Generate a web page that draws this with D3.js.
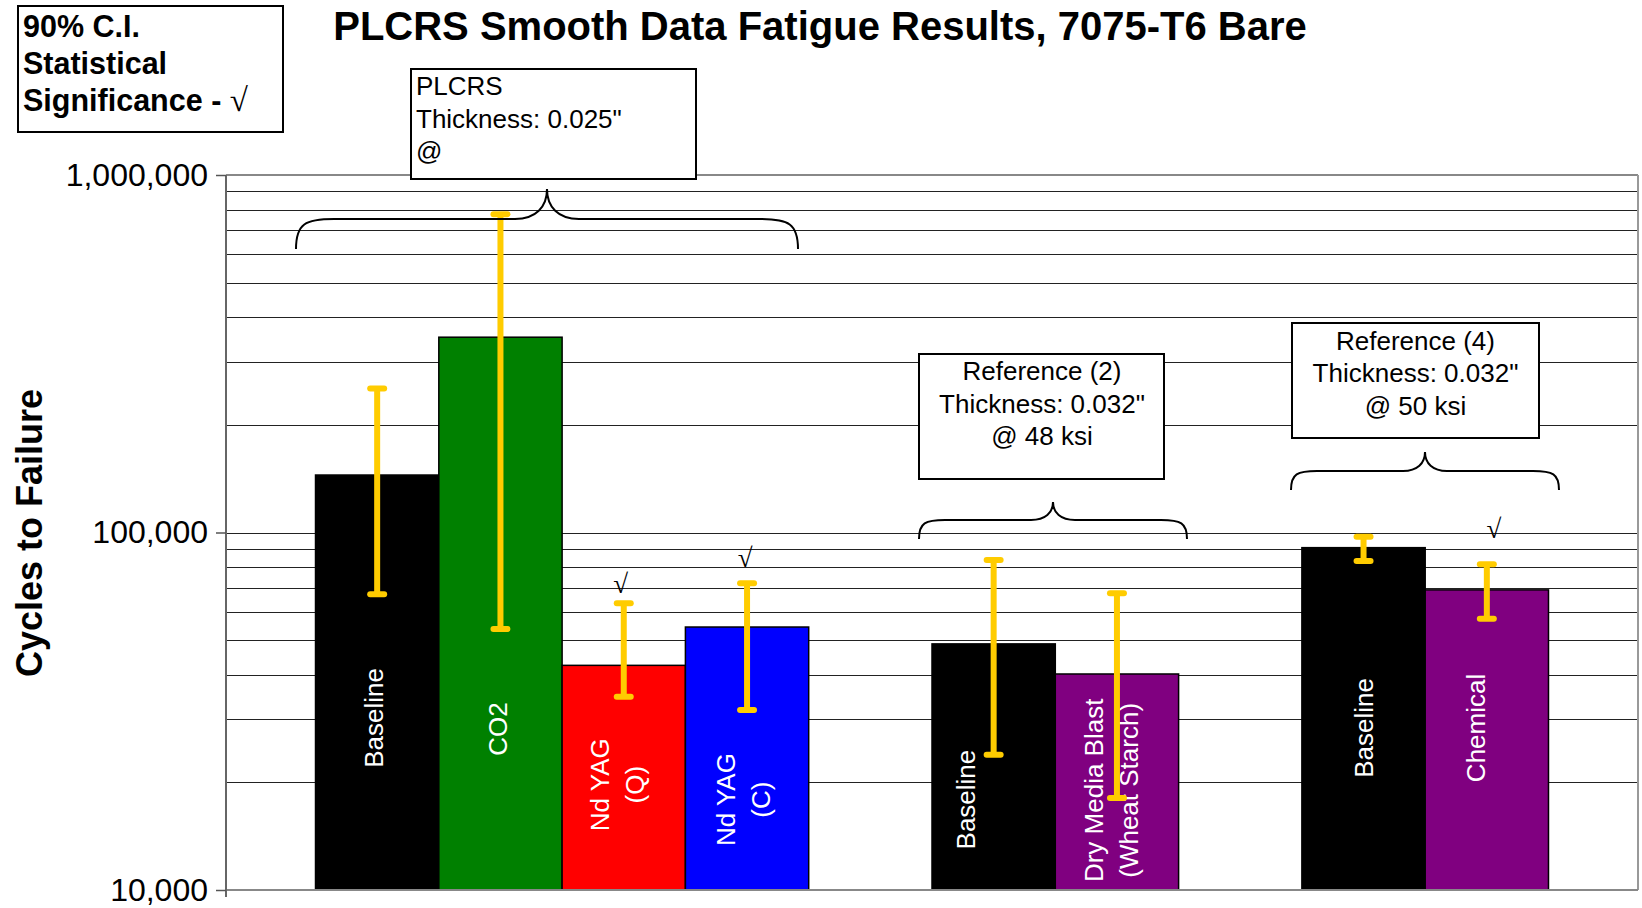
<!DOCTYPE html>
<html>
<head>
<meta charset="utf-8">
<script src="https://cdn.jsdelivr.net/npm/d3@7"></script>
<style>
  body { margin: 0; background: #fff; }
  svg { display: block; font-family: "Liberation Sans", Arial, sans-serif; }
</style>
</head>
<body>
<script>
// chart values
const slots = ["s0", "s1", "s2", "s3", "gapA", "s5", "s6", "gapB", "s8", "s9"];
const barSlot = ["s0", "s1", "s2", "s3", "s5", "s6", "s8", "s9"];
const barLabels = [["Baseline"], ["CO2"], ["Nd YAG", "(Q)"], ["Nd YAG", "(C)"],
                   ["Baseline"], ["Dry Media Blast", "(Wheat Starch)"], ["Baseline"], ["Chemical"]];
const cycles = [144800, 351800, 42500, 54400, 48800, 40200, 90700, 69100];
const ciHigh = [252700, 776700, 63400, 72100, 83800, 67600, 97300, 81500];
const ciLow  = [67200, 53700, 34700, 31900, 23900, 18100, 83200, 57400];
const significant = [false, false, true, true, false, false, false, true];
const barColors = ["#000000", "#008000", "#ff0000", "#0000ff", "#000000", "#800080", "#000000", "#800080"];
const yTicks = [10000, 100000, 1000000];

// where the labels inside the bars and the check marks sit (in cycles), plus small nudges
const labelAt = [30300, 28200, 19700, 17900, 17900, 19000, 28400, 28400];
const labelDx = [-4, -2.5, -7, -3.5, -28, -5.5, 0, -11];
const checkAt = [0, 0, 67700, 80100, 0, 0, 0, 96500];
const checkDx = [0, 0, -3, -2, 0, 0, 0, 7];

const width = 1642, height = 908;
const plot = { left: 226, right: 1638, top: 175, bottom: 890 };

const svg = d3.select("body").append("svg")
  .attr("width", width)
  .attr("height", height);

const x = d3.scaleBand()
  .domain(slots)
  .range([plot.left, plot.right])
  .paddingInner(0)
  .paddingOuter(0.726);

const y = d3.scaleLog()
  .domain([10000, 1000000])
  .range([plot.bottom, plot.top]);

// gridlines (every 1..9 of each decade)
const grid = y.ticks().filter(d => d > 10000 && d < 1000000);
svg.append("g")
  .selectAll("line")
  .data(grid)
  .join("line")
  .attr("x1", plot.left)
  .attr("x2", plot.right)
  .attr("y1", d => Math.round(y(d)) + 0.5)
  .attr("y2", d => Math.round(y(d)) + 0.5)
  .attr("stroke", "#222")
  .attr("stroke-width", 1);

const bars = barSlot.map((s, i) => ({
  slot: s, label: barLabels[i], value: cycles[i], hi: ciHigh[i], lo: ciLow[i],
  sig: significant[i], color: barColors[i], labelAt: labelAt[i], labelDx: labelDx[i],
  checkAt: checkAt[i], checkDx: checkDx[i]
}));
const cx = d => x(d.slot) + x.bandwidth() / 2;

// bars
svg.append("g")
  .selectAll("rect")
  .data(bars)
  .join("rect")
  .attr("x", d => x(d.slot))
  .attr("y", d => y(d.value))
  .attr("width", x.bandwidth())
  .attr("height", d => plot.bottom - y(d.value))
  .attr("fill", d => d.color)
  .attr("stroke", "#000")
  .attr("stroke-width", 1.5);

// labels inside the bars
const lab = svg.append("g")
  .selectAll("text")
  .data(bars)
  .join("text")
  .attr("transform", d => `translate(${cx(d) + d.labelDx},${y(d.labelAt)}) rotate(-90)`)
  .attr("text-anchor", "middle")
  .attr("fill", "#fff")
  .attr("font-size", 26);
lab.selectAll("tspan")
  .data(d => d.label.map((t, i) => ({ t, off: (i - (d.label.length - 1) / 2) * 35 })))
  .join("tspan")
  .attr("x", 0)
  .attr("y", d => d.off)
  .attr("dy", "0.36em")
  .text(d => d.t);

// error bars
const eb = svg.append("g")
  .attr("stroke", "#ffcc00")
  .attr("stroke-width", 6)
  .selectAll("g")
  .data(bars)
  .join("g");
eb.append("line")
  .attr("x1", cx).attr("x2", cx)
  .attr("y1", d => y(d.hi)).attr("y2", d => y(d.lo));
eb.append("line")
  .attr("stroke-linecap", "round")
  .attr("x1", d => cx(d) - 7).attr("x2", d => cx(d) + 7)
  .attr("y1", d => y(d.hi)).attr("y2", d => y(d.hi));
eb.append("line")
  .attr("stroke-linecap", "round")
  .attr("x1", d => cx(d) - 7).attr("x2", d => cx(d) + 7)
  .attr("y1", d => y(d.lo)).attr("y2", d => y(d.lo));

// statistical significance marks
svg.append("g")
  .selectAll("text")
  .data(bars.filter(d => d.sig))
  .join("text")
  .attr("x", d => cx(d) + d.checkDx)
  .attr("y", d => y(d.checkAt))
  .attr("text-anchor", "middle")
  .attr("font-family", "'Liberation Serif', 'Times New Roman', serif")
  .attr("font-size", 27)
  .text("\u221A");

// axes and plot frame
svg.append("line")
  .attr("x1", plot.left).attr("x2", plot.right)
  .attr("y1", plot.top).attr("y2", plot.top)
  .attr("stroke", "#888").attr("stroke-width", 2);
svg.append("line")
  .attr("x1", plot.right).attr("x2", plot.right)
  .attr("y1", plot.top).attr("y2", plot.bottom)
  .attr("stroke", "#999").attr("stroke-width", 2);
svg.append("line")
  .attr("x1", plot.left).attr("x2", plot.right)
  .attr("y1", plot.bottom).attr("y2", plot.bottom)
  .attr("stroke", "#888").attr("stroke-width", 2);
svg.append("line")
  .attr("x1", plot.left).attr("x2", plot.left)
  .attr("y1", plot.top).attr("y2", plot.bottom + 7)
  .attr("stroke", "#666").attr("stroke-width", 2);

const yAxis = svg.append("g")
  .attr("transform", `translate(${plot.left},0)`)
  .call(d3.axisLeft(y).tickValues(yTicks).tickFormat(d3.format(",")).tickSize(10).tickSizeOuter(0).tickPadding(8));
yAxis.select(".domain").remove();
yAxis.selectAll(".tick line").attr("stroke", "#555").attr("stroke-width", 1.5);
yAxis.selectAll(".tick text")
  .attr("font-family", "'Liberation Sans', Arial, sans-serif")
  .attr("font-size", 32)
  .attr("fill", "#000");

svg.append("text")
  .attr("transform", `translate(42,533) rotate(-90)`)
  .attr("text-anchor", "middle")
  .attr("font-weight", "bold")
  .attr("font-size", 36)
  .text("Cycles to Failure");

// title
svg.append("text")
  .attr("x", 820)
  .attr("y", 40)
  .attr("text-anchor", "middle")
  .attr("font-weight", "bold")
  .attr("font-size", 40)
  .text("PLCRS Smooth Data Fatigue Results, 7075-T6 Bare");

// curly braces over each group
function brace(x0, x1, yEnd, yFlat, tipX, tipY, r, r2) {
  const p = d3.path();
  p.moveTo(x0, yEnd);
  p.bezierCurveTo(x0, yFlat + (yEnd - yFlat) * 0.15, x0 + r * 0.25, yFlat, x0 + r, yFlat);
  p.lineTo(tipX - r2, yFlat);
  p.bezierCurveTo(tipX - r2 * 0.35, yFlat, tipX, yFlat - (yFlat - tipY) * 0.4, tipX, tipY);
  p.bezierCurveTo(tipX, yFlat - (yFlat - tipY) * 0.4, tipX + r2 * 0.35, yFlat, tipX + r2, yFlat);
  p.lineTo(x1 - r, yFlat);
  p.bezierCurveTo(x1 - r * 0.25, yFlat, x1, yFlat + (yEnd - yFlat) * 0.15, x1, yEnd);
  return p.toString();
}
const braces = [
  [296, 798, 249, 219, 547, 189, 38, 32],
  [919, 1187, 539, 520, 1053, 502, 26, 22],
  [1291, 1559, 490, 471, 1425, 452, 26, 22]
];
svg.append("g")
  .selectAll("path")
  .data(braces)
  .join("path")
  .attr("d", d => brace(...d))
  .attr("fill", "none")
  .attr("stroke", "#000")
  .attr("stroke-width", 2);

// note boxes
const boxes = [
  { x: 18, y: 6, w: 265, h: 126, anchor: "start", tx: 23, lines: ["90% C.I.", "Statistical", "Significance - "], base: 37, step: 37, size: 30.5, bold: true },
  { x: 411, y: 69, w: 285, h: 110, anchor: "start", tx: 416, lines: ["PLCRS", "Thickness: 0.025\"", "@"], base: 95, step: 32.5, size: 26, bold: false },
  { x: 919, y: 354, w: 245, h: 125, anchor: "middle", tx: 1042, lines: ["Reference (2)", "Thickness: 0.032\"", "@ 48 ksi"], base: 380, step: 32.5, size: 26, bold: false },
  { x: 1292, y: 323, w: 247, h: 115, anchor: "middle", tx: 1415.5, lines: ["Reference (4)", "Thickness: 0.032\"", "@ 50 ksi"], base: 349.5, step: 32.5, size: 26, bold: false }
];
const bx = svg.append("g")
  .selectAll("g")
  .data(boxes)
  .join("g");
bx.append("rect")
  .attr("x", d => d.x).attr("y", d => d.y)
  .attr("width", d => d.w).attr("height", d => d.h)
  .attr("fill", "#fff")
  .attr("stroke", "#000")
  .attr("stroke-width", 2);
bx.each(function(d) {
  const g = d3.select(this);
  d.lines.forEach((t, i) => {
    const txt = g.append("text")
      .attr("x", d.tx)
      .attr("y", d.base + i * d.step)
      .attr("text-anchor", d.anchor)
      .attr("font-size", d.size)
      .attr("font-weight", d.bold ? "bold" : "normal")
      .text(t);
    if (d.bold && i === d.lines.length - 1) {
      txt.append("tspan")
        .attr("font-weight", "normal")
        .attr("font-family", "'Liberation Serif', 'Times New Roman', serif")
        .attr("font-size", 33)
        .text("\u221A");
    }
  });
});
</script>
</body>
</html>
